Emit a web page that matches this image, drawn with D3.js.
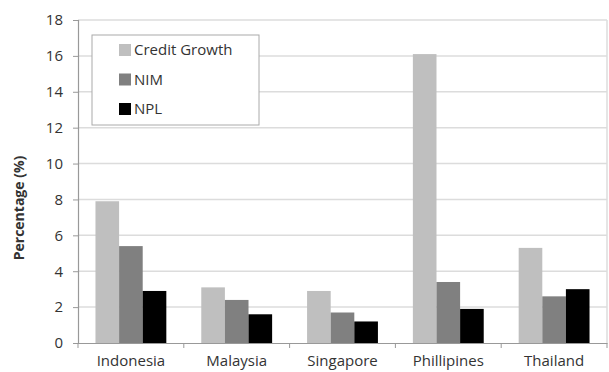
<!DOCTYPE html>
<html>
<head>
<meta charset="utf-8">
<script src="https://cdn.jsdelivr.net/npm/d3@7"></script>
<style>
  body { margin: 0; background: #fff; }
  text { font-family: "Open Sans", "DejaVu Sans", sans-serif; fill: #333; }
</style>
</head>
<body>
<div id="root"></div>
<script>
const countries = ['Indonesia', 'Malaysia', 'Singapore', 'Phillipines', 'Thailand'];
const seriesNames = ['Credit Growth', 'NIM', 'NPL'];
const creditGrowth = [7.9, 3.1, 2.9, 16.1, 5.3];
const nim = [5.4, 2.4, 1.7, 3.4, 2.6];
const npl = [2.9, 1.6, 1.2, 1.9, 3.0];
const yTicks = [0, 2, 4, 6, 8, 10, 12, 14, 16, 18];
const colours = ['#bfbfbf', '#808080', '#000000'];

const width = 609, height = 372;
const margin = {top: 20, right: 2, bottom: 29, left: 78};

const chart = d3.select('#root')
  .append('svg:svg')
  .attr('width', width)
  .attr('height', height);

const x = d3.scaleBand()
  .domain(countries)
  .range([margin.left, width - margin.right]);

const x1 = d3.scaleBand()
  .domain(seriesNames)
  .range([0, x.bandwidth()])
  .paddingOuter(0.74)
  .paddingInner(0);

const y = d3.scaleLinear()
  .domain([0, 18])
  .range([height - margin.bottom, margin.top]);

// Gridlines
chart.append('g')
  .selectAll('line')
  .data(yTicks.slice(1))
  .enter()
    .append('line')
    .attr('x1', margin.left)
    .attr('x2', width - margin.right)
    .attr('y1', d => y(d))
    .attr('y2', d => y(d))
    .attr('stroke', '#dcdcdc')
    .attr('stroke-width', 1.5);

// right border
chart.append('line')
  .attr('x1', width - margin.right).attr('x2', width - margin.right)
  .attr('y1', margin.top).attr('y2', height - margin.bottom)
  .attr('stroke', '#dcdcdc').attr('stroke-width', 1.5);

// Bars
const data = countries.map((c, i) => ({
  country: c,
  values: [creditGrowth[i], nim[i], npl[i]]
}));

const groups = chart.append('g')
  .selectAll('g')
  .data(data)
  .enter()
    .append('g')
    .attr('transform', d => `translate(${x(d.country)},0)`);

groups.selectAll('rect')
  .data(d => d.values.map((v, j) => ({name: seriesNames[j], value: v, j})))
  .enter()
    .append('rect')
    .attr('x', d => x1(d.name))
    .attr('width', x1.bandwidth())
    .attr('y', d => y(d.value))
    .attr('height', d => y(0) - y(d.value))
    .attr('fill', d => colours[d.j]);

// Y axis
const yAxis = chart.append('g')
  .attr('transform', `translate(${margin.left},0)`)
  .call(d3.axisLeft(y).tickValues(yTicks).tickSize(5).tickPadding(10));
yAxis.select('.domain').attr('stroke', '#999').attr('stroke-width', 1.2);
yAxis.selectAll('.tick line').attr('stroke', '#999');
yAxis.selectAll('text').style('font-size', '15px').attr('fill', '#333');

// X axis
const xAxis = chart.append('g')
  .attr('transform', `translate(0,${y(0)})`)
  .call(d3.axisBottom(x).tickSize(0).tickPadding(12));
xAxis.select('.domain').attr('stroke', '#999').attr('stroke-width', 1.2);
xAxis.selectAll('text').style('font-size', '15px').attr('fill', '#333');

// category separator ticks
chart.append('g')
  .selectAll('line')
  .data(d3.range(countries.length + 1))
  .enter()
    .append('line')
    .attr('x1', i => margin.left + i * x.step())
    .attr('x2', i => margin.left + i * x.step())
    .attr('y1', y(0))
    .attr('y2', y(0) + 5)
    .attr('stroke', '#999');

// Axis title
chart.append('text')
  .attr('transform', 'translate(24,208) rotate(-90)')
  .attr('text-anchor', 'middle')
  .style('font-size', '14px')
  .style('font-weight', 'bold')
  .text('Percentage (%)');

// Legend
const legend = chart.append('g');
legend.append('rect')
  .attr('x', 92).attr('y', 35)
  .attr('width', 167).attr('height', 90)
  .attr('fill', '#fff')
  .attr('stroke', '#aaa')
  .attr('stroke-width', 1);

const legendItems = legend.selectAll('g.item')
  .data(seriesNames)
  .enter()
    .append('g')
    .attr('class', 'item')
    .attr('transform', (d, i) => `translate(119,${50 + i * 29.5})`);

legendItems.append('rect')
  .attr('y', -6)
  .attr('width', 12).attr('height', 12)
  .attr('fill', (d, i) => colours[i]);

legendItems.append('text')
  .attr('x', 15).attr('y', 0)
  .attr('dy', '0.35em')
  .style('font-size', '15px')
  .text(d => d);
</script>
</body>
</html>
